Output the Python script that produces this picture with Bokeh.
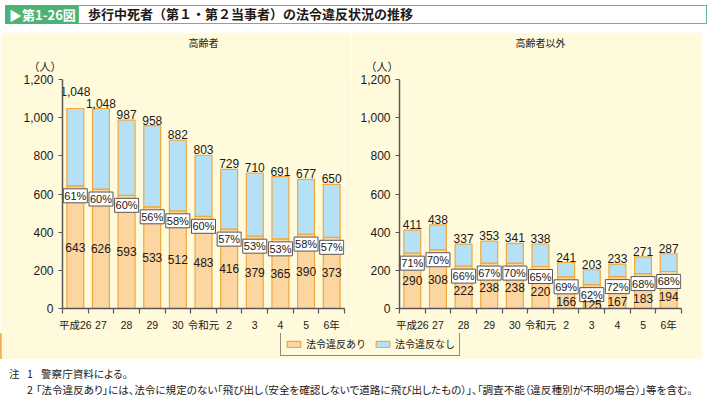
from bokeh.plotting import figure
from bokeh.models import (ColumnDataSource, Range1d, FixedTicker, NumeralTickFormatter,
                          Title, Legend, LegendItem, Div)
from bokeh.layouts import column, row
from bokeh.core.properties import value
from bokeh.embed import file_html
from bokeh.resources import INLINE

# ---- data ----
years = ["平成26", "27", "28", "29", "30", "令和元", "2", "3", "4", "5", "6年"]
elderly_total = [1048, 1048, 987, 958, 882, 803, 729, 710, 691, 677, 650]
elderly_violation = [643, 626, 593, 533, 512, 483, 416, 379, 365, 390, 373]
elderly_pct = [61, 60, 60, 56, 58, 60, 57, 53, 53, 58, 57]
other_total = [411, 438, 337, 353, 341, 338, 241, 203, 233, 271, 287]
other_violation = [290, 308, 222, 238, 238, 220, 166, 125, 167, 183, 194]
other_pct = [71, 70, 66, 67, 70, 65, 69, 62, 72, 68, 68]
y_ticks = [0, 200, 400, 600, 800, 1000, 1200]
panel_titles = ["高齢者", "高齢者以外"]
legend_labels = ["法令違反あり", "法令違反なし"]
unit_label = "（人）"
fig_label = "▶第1-26図"
main_title = "歩行中死者（第１・第２当事者）の法令違反状況の推移"
note1 = "警察庁資料による。"
note2 = "「法令違反あり」には、法令に規定のない「飛び出し（安全を確認しないで道路に飛び出したもの）」、「調査不能（違反種別が不明の場合）」等を含む。"

# ---- styles ----
BEIGE = "#fffadc"
ORANGE_FILL = "#fcd6a1"
ORANGE_LINE = "#f3a73a"
BLUE_FILL = "#b4e1f5"
TEXT = "#231815"
AXIS = "#595757"
GREEN = "#4db375"
NUM_FONT = "Liberation Sans, Noto Sans CJK JP, sans-serif"
JP_FONT = "Noto Sans CJK JP, sans-serif"


def make_source(total, violation, pct):
    n = len(total)
    top_labels = [f"{t:,}" for t in total]
    top_off = []
    for i in range(n):
        crowd = (i + 1 < n and len(top_labels[i]) > 3 and len(top_labels[i + 1]) > 3
                 and abs(total[i] - total[i + 1]) < 60)
        top_off.append(-13 if crowd else -1)
    inner_y = [max(min(v / 2, v - 130), 20) for v in violation]
    return ColumnDataSource(dict(
        x=list(range(n)), total=total, violation=violation,
        top_label=top_labels, top_off=top_off,
        inner_y=inner_y, inner_label=[str(v) for v in violation],
        pct_label=[f"{q}%" for q in pct],
    ))


def make_panel(title, src, left_border, right_border):
    n = len(years)
    xs = list(range(n))
    p = figure(frame_width=282, frame_height=229, title=None,
               x_range=Range1d(-0.5, n - 0.5), y_range=Range1d(0, 1200),
               output_backend="svg", toolbar_location=None,
               min_border_left=left_border, min_border_right=right_border,
               min_border_top=10, min_border_bottom=10,
               background_fill_color=BEIGE, border_fill_color=BEIGE, outline_line_color=None)
    p.grid.visible = False

    p.vbar(x="x", bottom=0, top="violation", width=0.66, source=src,
           fill_color=ORANGE_FILL, line_color=ORANGE_LINE, line_width=1.2)
    p.vbar(x="x", bottom="violation", top="total", width=0.66, source=src,
           fill_color=BLUE_FILL, line_color=ORANGE_LINE, line_width=1.2)

    p.text(x="x", y="total", text="top_label", y_offset="top_off", source=src,
           text_align="center", text_baseline="bottom", text_font=value(NUM_FONT),
           text_font_size="12px", text_color=TEXT)
    p.text(x="x", y="violation", text="pct_label", y_offset=10, source=src,
           text_align="center", text_baseline="middle", text_font=value(NUM_FONT),
           text_font_size="11px", text_color=TEXT,
           background_fill_color="white", border_line_color=AXIS, border_line_width=1,
           padding=1)
    p.text(x="x", y="inner_y", text="inner_label", source=src,
           text_align="center", text_baseline="middle", text_font=value(NUM_FONT),
           text_font_size="12px", text_color=TEXT)

    yax = p.yaxis[0]
    yax.ticker = FixedTicker(ticks=y_ticks)
    yax.formatter = NumeralTickFormatter(format="0,0")
    yax.major_tick_out = 4
    yax.major_tick_in = 0
    yax.minor_tick_out = 0
    yax.minor_tick_in = 0
    yax.major_label_standoff = 5
    yax.major_label_text_font_size = "12px"

    xax = p.xaxis[0]
    xax.ticker = FixedTicker(ticks=xs, minor_ticks=[i - 0.5 for i in range(n + 1)])
    xax.major_label_overrides = {i: years[i] for i in xs}
    xax.major_tick_out = 0
    xax.major_tick_in = 0
    xax.minor_tick_out = 5
    xax.minor_tick_in = 0
    xax.major_label_standoff = 5
    xax.major_label_text_font_size = "10.5px"

    for ax in (xax, yax):
        ax.axis_line_color = AXIS
        ax.axis_line_width = 1.5
        ax.major_tick_line_color = AXIS
        ax.minor_tick_line_color = AXIS
        ax.major_tick_line_width = 1.2
        ax.minor_tick_line_width = 1.2
        ax.major_label_text_font = NUM_FONT
        ax.major_label_text_color = TEXT

    # closest to the frame first, then the panel heading above it
    p.add_layout(Title(text=unit_label, align="left", offset=-34, standoff=11,
                       text_font=JP_FONT, text_font_size="11px", text_font_style="normal",
                       text_color=TEXT), "above")
    p.add_layout(Title(text=title, align="center", standoff=1,
                       text_font=JP_FONT, text_font_size="10px", text_font_style="normal",
                       text_color=TEXT), "above")
    return p


src_left = make_source(elderly_total, elderly_violation, elderly_pct)
src_right = make_source(other_total, other_violation, other_pct)
p_left = make_panel(panel_titles[0], src_left, 62, 7)
p_right = make_panel(panel_titles[1], src_right, 48, 21)

# ---- legend strip (same bars, kept outside the visible range; only the legend shows) ----
n_cat = len(years)
lf = figure(width=702, height=26, x_range=Range1d(n_cat + 1, n_cat + 2), y_range=Range1d(0, 1),
            output_backend="svg", toolbar_location=None, x_axis_type=None, y_axis_type=None,
            min_border=0, background_fill_color=BEIGE, border_fill_color=BEIGE,
            outline_line_color=None)
lf.grid.visible = False
r1 = lf.vbar(x="x", bottom=0, top="violation", width=0.66, source=src_left,
             fill_color=ORANGE_FILL, line_color=ORANGE_LINE, line_width=1.2)
r2 = lf.vbar(x="x", bottom="violation", top="total", width=0.66, source=src_left,
             fill_color=BLUE_FILL, line_color=ORANGE_LINE, line_width=1.2)
legend = Legend(items=[LegendItem(label=legend_labels[0], renderers=[r1]),
                       LegendItem(label=legend_labels[1], renderers=[r2])],
                orientation="horizontal", location=(280, 3),
                border_line_color=TEXT, border_line_width=1, background_fill_color=BEIGE,
                background_fill_alpha=1,
                label_text_font=JP_FONT, label_text_font_size="10px", label_text_color=TEXT,
                glyph_width=17, glyph_height=8, label_standoff=4, spacing=8,
                padding=4, margin=0, label_height=11)
lf.add_layout(legend, "center")

# ---- header & notes ----
header = Div(width=702, height=22, text=(
    f'<div style="display:flex;height:19px;width:702px;font-family:\'Noto Sans CJK JP\',sans-serif;">'
    f'<div style="background:{GREEN};color:#fff;font-weight:bold;font-size:13px;width:73px;'
    f'line-height:19px;padding-left:4px;box-sizing:border-box;white-space:nowrap;">{fig_label}</div>'
    f'<div style="flex:1;border:1.5px solid #5cbf85;box-sizing:border-box;font-weight:bold;'
    f'font-size:13px;line-height:16px;padding-left:9px;color:{TEXT};white-space:nowrap;">{main_title}</div>'
    f'</div>'))

notes = Div(width=702, height=35, text=(
    f'<div style="font-family:\'Noto Sans CJK JP\',sans-serif;font-size:10.6px;color:{TEXT};'
    f'line-height:16px;padding-top:2px;white-space:nowrap;font-feature-settings:\'palt\';">'
    f'<div><span style="display:inline-block;width:22px;padding-left:4px;box-sizing:border-box;">注</span>'
    f'<span style="display:inline-block;width:14px;">1</span>{note1}</div>'
    f'<div><span style="display:inline-block;width:22px;"></span>'
    f'<span style="display:inline-block;width:9px;">2</span>{note2}</div>'
    f'</div>'))

layout = column(header, row(p_left, p_right), lf, notes)

open("out.html", "w").write(file_html(layout, INLINE))
